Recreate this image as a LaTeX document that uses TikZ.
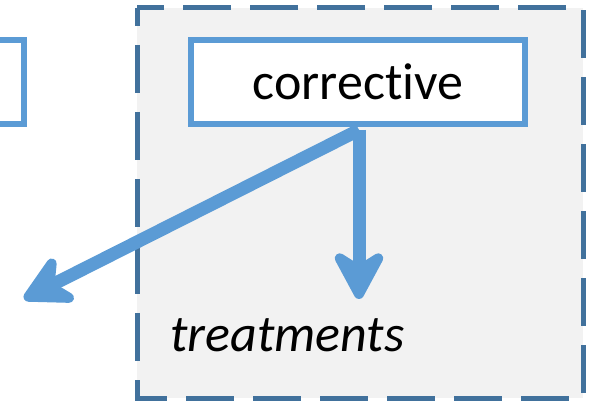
\documentclass[tikz,border=0pt]{standalone}
\usepackage{fontspec}
\setmainfont{Carlito}[Ligatures=NoCommon]
\usetikzlibrary{arrows.meta}
\definecolor{boxblue}{HTML}{5B9BD5}
\definecolor{dashblue}{HTML}{41719C}
\definecolor{panelgrey}{HTML}{F2F2F2}
\begin{document}
\begin{tikzpicture}[x=1pt,y=-1pt,
        >={Stealth[length=60pt,width=64pt,inset=20pt,round]},
        blockbox/.style={draw=boxblue,line width=6pt,fill=white,inner sep=0pt},
        flow/.style={->,draw=boxblue,fill=boxblue,line width=13pt}]
            \useasboundingbox (0,0) rectangle (589,403);
            % grey panel
            \draw[dashblue,line width=5pt,fill=panelgrey,dash pattern=on 48pt off 19pt,dash phase=30pt]
            (137,8) rectangle (583,398);
            \node[blockbox,minimum width=334pt,minimum height=84pt] (prev) at (-143,82) {};
            \node[blockbox,minimum width=334pt,minimum height=84pt,font=\fontsize{52}{60}\selectfont] (corr) at (358,82) {corrective};
            \coordinate (down) at (359,299);
            \coordinate (away) at (24,299);
            \draw[flow] ([xshift=1pt,yshift=-3pt]corr.south) -- (down);
            \draw[flow] ([xshift=1pt,yshift=-3pt]corr.south) -- (away);
            \node[anchor=base west,inner sep=0pt,font=\itshape\fontsize{52}{60}\selectfont] (treat) at (170,352) {treatments};
        \end{tikzpicture}
\end{document}
